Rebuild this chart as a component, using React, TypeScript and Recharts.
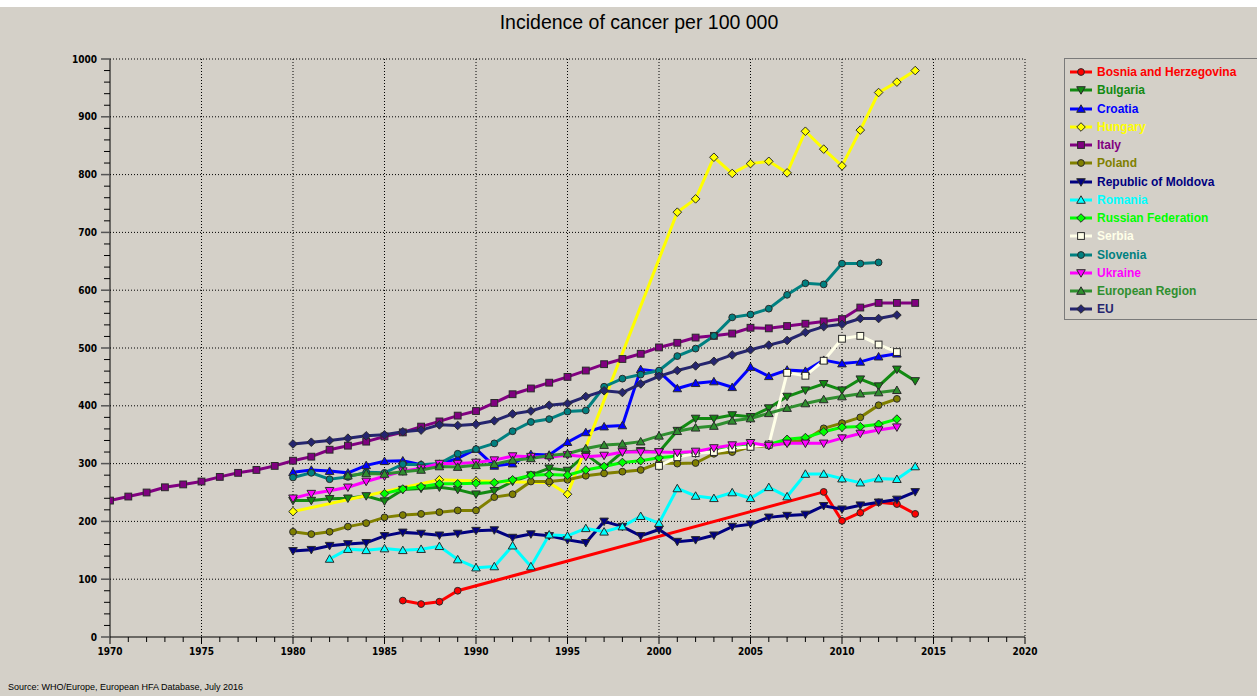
import React from "react";
import { LineChart, Line, XAxis, YAxis, CartesianGrid } from "recharts";

// years covered by the data table
const YEARS = Array.from({ length: 45 }, (_, i) => 1970 + i);
const X_TICKS = Array.from({ length: 51 }, (_, i) => 1970 + i);
const Y_TICKS = Array.from({ length: 51 }, (_, i) => i * 20);
const GRID_X = [1975, 1980, 1985, 1990, 1995, 2000, 2005, 2010, 2015, 2020];
const GRID_Y = [100, 200, 300, 400, 500, 600, 700, 800, 900, 1000];

// values, each array starts at the year given in SERIES
const bosnia = [63, 57, 61, 80, null, null, null, null, null, null, null, null, null, null, null, null, null, null, null, null, null, null, null, 251, 201, 215, 233, 230, 213];
const bulgaria = [236, 236, 239, 240, 244, 235, 255, 257, 259, 255, 247, 253, 269, 280, 292, 288, 316, 293, 320, 322, 320, 357, 378, 378, 384, 381, 396, 416, 427, 438, 427, 446, 434, 463, 443];
const croatia = [285, 289, 287, 284, 297, 304, 305, 298, 299, 309, 325, 296, 300, 316, 315, 337, 354, 364, 366, 463, 459, 430, 439, 442, 432, 467, 451, 462, 460, 479, 473, 476, 485, 490];
const hungary = [217, null, null, null, null, null, null, null, 272, null, 270, null, null, null, 267, 247, null, null, null, null, null, 735, 758, 830, 802, 819, 823, 803, 875, 844, 815, 877, 942, 960, 980];
const italy = [236, 243, 250, 259, 264, 269, 277, 284, 289, 296, 305, 312, 324, 331, 338, 347, 354, 364, 373, 383, 391, 405, 420, 430, 440, 450, 461, 472, 481, 490, 501, 509, 518, 521, 525, 535, 534, 538, 542, 546, 550, 570, 578, 578, 578];
const poland = [182, 178, 182, 191, 197, 207, 211, 213, 216, 219, 219, 242, 247, 269, 269, 272, 279, 283, 286, 289, 301, 300, 301, 317, 320, 329, 331, 337, 341, 361, 370, 380, 401, 412];
const moldova = [149, 151, 158, 161, 163, 175, 181, 179, 176, 179, 184, 185, 172, 178, 175, 168, 163, 200, 191, 175, 186, 165, 168, 176, 191, 195, 207, 210, 212, 227, 221, 228, 233, 238, 251];
const romania = [135, 152, 150, 153, 150, 152, 157, 134, 120, 122, 158, 122, 177, 175, 188, 182, 191, 209, 197, 257, 244, 240, 250, 240, 259, 243, 282, 282, 274, 267, 274, 273, 295];
const russia = [248, 256, 260, 265, 265, 266, 267, 272, 280, 281, 280, 289, 295, 302, 305, 310, 313, 318, 324, 326, 332, 333, 342, 345, 355, 363, 364, 368, 377];
const serbia = [296, 311, 318, 320, 326, 329, 333, 457, 452, 478, 516, 521, 506, 493];
const slovenia = [276, 284, 273, 277, 285, 284, 299, 298, 300, 317, 325, 335, 356, 372, 377, 390, 392, 433, 447, 454, 461, 486, 499, 521, 553, 558, 568, 592, 612, 610, 646, 646, 648];
const ukraine = [240, 248, 253, 259, 269, 278, 287, 292, 300, 300, 302, 306, 313, 312, 311, 315, 312, 314, 320, 320, 320, 319, 321, 327, 332, 336, 331, 335, 335, 335, 344, 352, 358, 363];
const europeanRegion = [279, 283, 282, 286, 289, 295, 294, 297, 299, 306, 309, 314, 317, 326, 332, 334, 338, 348, 356, 362, 365, 374, 378, 387, 396, 404, 411, 416, 421, 423, 427];
const eu = [334, 337, 340, 344, 348, 350, 355, 358, 367, 366, 368, 374, 386, 391, 401, 404, 416, 426, 423, 438, 451, 461, 469, 477, 488, 497, 505, 513, 527, 537, 541, 551, 551, 557];

const SERIES = [
  { key: "bosnia", name: "Bosnia and Herzegovina", start: 1986, values: bosnia, color: "#ff0000", shape: "circle" },
  { key: "bulgaria", name: "Bulgaria", start: 1980, values: bulgaria, color: "#128a12", shape: "down" },
  { key: "croatia", name: "Croatia", start: 1980, values: croatia, color: "#0000ff", shape: "up" },
  { key: "hungary", name: "Hungary", start: 1980, values: hungary, color: "#ffff00", shape: "diamond" },
  { key: "italy", name: "Italy", start: 1970, values: italy, color: "#800080", shape: "square" },
  { key: "poland", name: "Poland", start: 1980, values: poland, color: "#808000", shape: "circle" },
  { key: "moldova", name: "Republic of Moldova", start: 1980, values: moldova, color: "#000080", shape: "down" },
  { key: "romania", name: "Romania", start: 1982, values: romania, color: "#00ffff", shape: "up" },
  { key: "russia", name: "Russian Federation", start: 1985, values: russia, color: "#00ff00", shape: "diamond" },
  { key: "serbia", name: "Serbia", start: 2000, values: serbia, color: "#ffffe8", shape: "square" },
  { key: "slovenia", name: "Slovenia", start: 1980, values: slovenia, color: "#008080", shape: "circle" },
  { key: "ukraine", name: "Ukraine", start: 1980, values: ukraine, color: "#ff00ff", shape: "down" },
  { key: "europe", name: "European Region", start: 1983, values: europeanRegion, color: "#2f8f2f", shape: "up" },
  { key: "eu", name: "EU", start: 1980, values: eu, color: "#25256f", shape: "diamond" },
];

const data = YEARS.map((year) => {
  const row: any = { year };
  SERIES.forEach((s) => {
    const v = s.values[year - s.start];
    row[s.key] = v === undefined ? null : v;
  });
  return row;
});

const BG = "#d4d0c8";
const AXIS_FONT = "'Liberation Sans Narrow', 'DejaVu Sans Condensed', 'Liberation Sans', sans-serif";

function markerShape(shape: string, cx: number, cy: number, fill: string) {
  const st = { fill, stroke: "#2a2a2a", strokeWidth: 1 };
  switch (shape) {
    case "circle":
      return <circle cx={cx} cy={cy} r={3.4} {...st} />;
    case "square":
      return <rect x={cx - 3.4} y={cy - 3.4} width={6.8} height={6.8} {...st} />;
    case "up":
      return <polygon points={`${cx},${cy - 4.2} ${cx + 4.3},${cy + 3.3} ${cx - 4.3},${cy + 3.3}`} {...st} />;
    case "down":
      return <polygon points={`${cx - 4.3},${cy - 3.3} ${cx + 4.3},${cy - 3.3} ${cx},${cy + 4.2}`} {...st} />;
    default:
      return <polygon points={`${cx},${cy - 4.3} ${cx + 4.3},${cy} ${cx},${cy + 4.3} ${cx - 4.3},${cy}`} {...st} />;
  }
}

const XTick = ({ x, y, payload }: any) => {
  const major = payload.value % 5 === 0;
  return (
    <g>
      <line x1={x} y1={y} x2={x} y2={y + (major ? 7 : 5)} stroke="#000" />
      {major && (
        <text x={x} y={y + 18} textAnchor="middle" fontSize={10} fontWeight="bold" fontFamily={AXIS_FONT} fill="#000">
          {payload.value}
        </text>
      )}
    </g>
  );
};

const YTick = ({ x, y, payload }: any) => {
  const major = payload.value % 100 === 0;
  return (
    <g>
      <line x1={x - (major ? 9 : 6)} y1={y} x2={x} y2={y} stroke={major ? "#555" : "#000"} strokeWidth={major ? 1.5 : 1} />
      {major && (
        <text x={x - 13} y={y + 3.5} textAnchor="end" fontSize={10} fontWeight="bold" fontFamily={AXIS_FONT} fill="#000">
          {payload.value}
        </text>
      )}
    </g>
  );
};

function LegendBox() {
  return (
    <div
      style={{
        position: "absolute",
        left: 1064,
        top: 51,
        width: 200,
        height: 262,
        border: "1px solid #7a7a7a",
        boxSizing: "border-box",
      }}
    >
      {SERIES.map((s, i) => (
        <div key={s.key} style={{ position: "absolute", left: 4, top: 4 + i * 18.25, height: 18, display: "flex", alignItems: "center" }}>
          <svg width={24} height={18} style={{ display: "block" }}>
            <line x1={1} y1={9} x2={23} y2={9} stroke={s.color} strokeWidth={3} />
            {markerShape(s.shape, 12, 9, s.color)}
          </svg>
          <span
            style={{
              marginLeft: 4,
              color: s.color,
              fontFamily: "'Liberation Sans', Arial, sans-serif",
              fontWeight: "bold",
              fontSize: 12,
              whiteSpace: "nowrap",
            }}
          >
            {s.name}
          </span>
        </div>
      ))}
    </div>
  );
}

export default function App() {
  return (
    <div style={{ position: "absolute", left: 0, top: 7, width: 1257, height: 689, background: BG, overflow: "hidden" }}>
      <div
        style={{
          position: "absolute",
          left: 0,
          top: 5,
          width: 1278,
          textAlign: "center",
          fontFamily: "'Liberation Sans', Arial, sans-serif",
          fontSize: 19.5,
          lineHeight: "20px",
          color: "#000",
        }}
      >
        Incidence of cancer per 100 000
      </div>
      <LineChart width={1257} height={689} data={data} margin={{ top: 52, right: 232, bottom: 29, left: 50 }}>
        <CartesianGrid horizontalValues={GRID_Y} verticalValues={GRID_X} stroke="#000" strokeDasharray="1 2" />
        <XAxis
          type="number"
          dataKey="year"
          domain={[1970, 2020]}
          ticks={X_TICKS}
          interval={0}
          height={30}
          tickSize={0}
          tickMargin={0}
          tickLine={false}
          tick={<XTick />}
          axisLine={{ stroke: "#000" }}
          allowDataOverflow
        />
        <YAxis
          type="number"
          domain={[0, 1000]}
          ticks={Y_TICKS}
          interval={0}
          width={60}
          tickSize={0}
          tickMargin={0}
          tickLine={false}
          tick={<YTick />}
          axisLine={{ stroke: "#000" }}
        />
        {SERIES.map((s) => (
          <Line
            key={s.key}
            type="linear"
            dataKey={s.key}
            name={s.name}
            stroke={s.color}
            strokeWidth={3}
            connectNulls
            isAnimationActive={false}
            activeDot={false}
            dot={(p: any) => {
              if (p.payload?.[s.key] == null || p.cy == null) return <g key={`${s.key}-${p.index}`} />;
              return <g key={`${s.key}-${p.index}`}>{markerShape(s.shape, p.cx, p.cy, s.color)}</g>;
            }}
          />
        ))}
      </LineChart>
      <LegendBox />
      <div
        style={{
          position: "absolute",
          left: 8,
          top: 675,
          fontFamily: "'Liberation Sans', Arial, sans-serif",
          fontSize: 9,
          color: "#000",
          whiteSpace: "nowrap",
        }}
      >
        Source: WHO/Europe, European HFA Database, July 2016
      </div>
    </div>
  );
}
